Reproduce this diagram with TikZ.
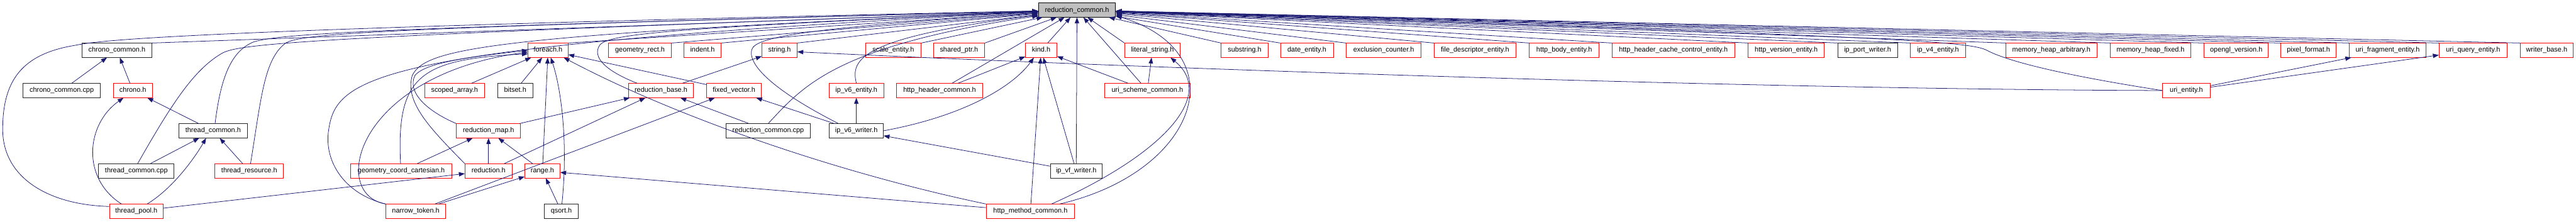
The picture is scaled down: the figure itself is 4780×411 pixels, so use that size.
\documentclass[tikz,border=0pt]{standalone}
\usepackage{fontspec}
\setmainfont{Liberation Sans}
\usetikzlibrary{arrows.meta}
\definecolor{edgeblue}{RGB}{25,25,112}
\definecolor{nodered}{RGB}{255,0,0}
\definecolor{rootgray}{RGB}{191,191,191}

\tikzset{
  file/.style={draw=black, line width=1bp, minimum height=26bp, inner xsep=3bp,
    inner ysep=0pt, font=\fontsize{12.8}{14}\selectfont, text height=9.5bp, text depth=2.5bp},
  redfile/.style={file, draw=nodered},
  blackfile/.style={file, draw=black!85},
  rootfile/.style={file, fill=rootgray},
  dep/.style={draw=edgeblue, line width=0.9bp, -{Triangle[length=11bp,width=8bp]}},
}

\begin{document}
\begin{tikzpicture}[x=1bp, y=-1bp]
  \useasboundingbox (0,0) rectangle (4780,411);

  % the file itself
  \node[rootfile, minimum width=143bp] (root) at (1998.5,18.7) {reduction\_common.h};

  % first row
  \node[blackfile, minimum width=130bp] (ccomh) at (217,93.3) {chrono\_common.h};
  \node[redfile, minimum width=74bp] (foreach) at (1017,93.3) {foreach.h};
  \node[redfile, minimum width=117bp] (grect) at (1187.5,93.3) {geometry\_rect.h};
  \node[redfile, minimum width=69bp] (indent) at (1303.5,93.3) {indent.h};
  \node[redfile, minimum width=65bp] (string) at (1446.5,93.3) {string.h};
  \node[redfile, minimum width=103bp] (scale) at (1657.5,93.3) {scale\_entity.h};
  \node[redfile, minimum width=95bp] (sptr) at (1779.5,93.3) {shared\_ptr.h};
  \node[redfile, minimum width=58bp] (kind) at (1932,93.3) {kind.h};
  \node[redfile, minimum width=103bp] (lstr) at (2138.5,93.3) {literal\_string.h};
  \node[redfile, minimum width=87bp] (substr) at (2309.5,93.3) {substring.h};
  \node[redfile, minimum width=98bp] (date) at (2425,93.3) {date\_entity.h};
  \node[redfile, minimum width=139bp] (excl) at (2567.5,93.3) {exclusion\_counter.h};
  \node[redfile, minimum width=152bp] (fdesc) at (2737,93.3) {file\_descriptor\_entity.h};
  \node[redfile, minimum width=129bp] (hbody) at (2902.5,93.3) {http\_body\_entity.h};
  \node[redfile, minimum width=228bp] (hcache) at (3105,93.3) {http\_header\_cache\_control\_entity.h};
  \node[redfile, minimum width=141bp] (hver) at (3314.5,93.3) {http\_version\_entity.h};
  \node[blackfile, minimum width=111bp] (ipport) at (3465.5,93.3) {ip\_port\_writer.h};
  \node[redfile, minimum width=102bp] (ipv4e) at (3596,93.3) {ip\_v4\_entity.h};
  \node[redfile, minimum width=169bp] (mharb) at (3806.5,93.3) {memory\_heap\_arbitrary.h};
  \node[redfile, minimum width=149bp] (mhfix) at (3990.5,93.3) {memory\_heap\_fixed.h};
  \node[redfile, minimum width=119bp] (ogl) at (4149.5,93.3) {opengl\_version.h};
  \node[redfile, minimum width=103bp] (pixf) at (4283.5,93.3) {pixel\_format.h};
  \node[redfile, minimum width=143bp] (ufrag) at (4430.5,93.3) {uri\_fragment\_entity.h};
  \node[redfile, minimum width=126bp] (uquery) at (4589,93.3) {uri\_query\_entity.h};
  \node[redfile, minimum width=99bp] (wbase) at (4725.5,93.3) {writer\_base.h};

  % second row
  \node[blackfile, minimum width=143bp] (ccomcpp) at (114.5,168) {chrono\_common.cpp};
  \node[redfile, minimum width=73bp] (chrono) at (246.5,168) {chrono.h};
  \node[redfile, minimum width=111bp] (sarr) at (843.5,168) {scoped\_array.h};
  \node[blackfile, minimum width=66bp] (bitset) at (956,168) {bitset.h};
  \node[redfile, minimum width=121bp] (rbase) at (1226.5,168) {reduction\_base.h};
  \node[redfile, minimum width=102bp] (fvec) at (1362,168) {fixed\_vector.h};
  \node[redfile, minimum width=102bp] (ipv6e) at (1589,168) {ip\_v6\_entity.h};
  \node[redfile, minimum width=159bp] (hhc) at (1743.5,168) {http\_header\_common.h};
  \node[redfile, minimum width=158bp] (usch) at (2129,168) {uri\_scheme\_common.h};
  \node[redfile, minimum width=88bp] (urient) at (4057,168) {uri\_entity.h};

  % third row
  \node[blackfile, minimum width=127bp] (tcomh) at (395.5,242.7) {thread\_common.h};
  \node[redfile, minimum width=119bp] (rmap) at (906.5,242.7) {reduction\_map.h};
  \node[blackfile, minimum width=157bp] (rccpp) at (1425.5,242.7) {reduction\_common.cpp};
  \node[blackfile, minimum width=100bp] (ipv6w) at (1589,242.7) {ip\_v6\_writer.h};

  % fourth row
  \node[blackfile, minimum width=140bp] (tcomcpp) at (253,317.2) {thread\_common.cpp};
  \node[redfile, minimum width=127bp] (tres) at (462.5,317.2) {thread\_resource.h};
  \node[redfile, minimum width=187bp] (gcc) at (744.5,317.2) {geometry\_coord\_cartesian.h};
  \node[redfile, minimum width=87bp] (red) at (906.5,317.2) {reduction.h};
  \node[redfile, minimum width=65bp] (range) at (1006.5,317.2) {range.h};
  \node[blackfile, minimum width=96bp] (ipvfw) at (1997,317.2) {ip\_vf\_writer.h};

  % fifth row
  \node[redfile, minimum width=100bp] (tpool) at (253,392) {thread\_pool.h};
  \node[redfile, minimum width=111bp] (ntok) at (771.5,392) {narrow\_token.h};
  \node[blackfile, minimum width=63bp] (qsort) at (1041.5,392) {qsort.h};
  \node[redfile, minimum width=164bp] (hmc) at (1912,392) {http\_method\_common.h};

  % direct includes of the file
  \foreach \n in {ccomh,foreach,grect,indent,string,scale,sptr}
    \draw[dep] (\n.north east) -- (root);
  \foreach \n in {lstr,substr,date,excl,fdesc,hbody,hcache,hver,ipport,ipv4e,mharb,mhfix,ogl,pixf,ufrag,uquery,wbase}
    \draw[dep] (\n.north west) -- (root);
  \draw[dep] (kind) -- (root);
  \draw[dep] (hhc) -- (root);
  \draw[dep] (usch) -- (root);
  \draw[dep] (ipvfw) -- (root);

  % chrono / thread part
  \draw[dep] (ccomcpp) -- (ccomh);
  \draw[dep] (chrono) -- (ccomh);
  \draw[dep] (tcomh) -- (chrono);
  \draw[dep] (tcomcpp) -- (tcomh);
  \draw[dep] (tres) -- (tcomh);
  \draw[dep] (tpool.154) .. controls (150,330) and (160,230) .. (chrono.218);
  \draw[dep] (tpool.34) .. controls (320,350) and (360,295) .. (tcomh.226);
  \draw[dep] (tpool.170) .. controls (90,380) and (5,330) .. (5,240)
    .. controls (5,150) and (40,100) .. (140,84) .. controls (180,76) and (300,55) .. (root);
  \draw[dep] (tcomcpp.80) .. controls (320,190) and (360,130) .. (410,100)
    .. controls (440,82) and (520,70) .. (root);
  \draw[dep] (tcomh.75) .. controls (410,140) and (430,95) .. (470,78)
    .. controls (520,62) and (700,52) .. (root);
  \draw[dep] (tres.80) .. controls (485,180) and (490,110) .. (530,80)
    .. controls (560,62) and (700,52) .. (root);
  \draw[dep] (tpool) -- (red);

  % foreach / reduction part
  \draw[dep] (sarr) -- (foreach);
  \draw[dep] (bitset) -- (foreach);
  \draw[dep] (range) -- (foreach);
  \draw[dep] (fvec) -- (foreach);
  \draw[dep] (hmc.north west) .. controls (1550,320) and (1250,215) .. (foreach.-25);
  \draw[dep] (qsort.85) .. controls (1055,260) and (1040,160) .. (foreach.290);
  \draw[dep] (gcc.95) .. controls (735,140) and (780,110) .. (foreach.190);
  \draw[dep] (ntok.north west) .. controls (610,360) and (660,140) .. (foreach.185);
  \draw[dep] (ntok.north west) .. controls (640,360) and (600,300) .. (610,240)
    .. controls (625,140) and (700,85) .. (root);
  \draw[dep] (rmap.north west) .. controls (790,205) and (755,170) .. (770,140)
    .. controls (790,115) and (880,105) .. (foreach.180);
  \draw[dep] (red.north west) .. controls (800,240) and (750,190) .. (765,140)
    .. controls (790,90) and (900,65) .. (root);
  \draw[dep] (gcc) -- (rmap);
  \draw[dep] (red) -- (rmap);
  \draw[dep] (range) -- (rmap);
  \draw[dep] (rmap) -- (rbase);
  \draw[dep] (red) -- (rbase);
  \draw[dep] (qsort) -- (range);
  \draw[dep] (ntok) -- (range);
  \draw[dep] (hmc) -- (range);
  \draw[dep] (ntok) -- (fvec);
  \draw[dep] (rbase.163) .. controls (1120,130) and (1100,105) .. (1112,85)
    .. controls (1125,62) and (1250,52) .. (root);
  \draw[dep] (rbase) -- (string);
  \draw[dep] (rccpp) -- (rbase);
  \draw[dep] (rccpp.north) .. controls (1490,160) and (1550,85) .. (root);

  % ip writers
  \draw[dep] (ipv6w) -- (ipv6e);
  \draw[dep] (ipv6w) -- (fvec);
  \draw[dep] (ipv6w.158) .. controls (1420,160) and (1388,115) .. (1395,92)
    .. controls (1402,68) and (1500,52) .. (root);
  \draw[dep] (ipv6e.north) .. controls (1578,110) and (1595,70) .. (root);
  \draw[dep] (ipvfw) -- (ipv6w);
  \draw[dep] (ipv6w.east) .. controls (1790,215) and (1880,160) .. (kind.225);
  \draw[dep] (ipvfw) -- (kind);

  % http / uri part
  \draw[dep] (hmc) -- (kind);
  \draw[dep] (hhc) -- (kind);
  \draw[dep] (usch) -- (kind);
  \draw[dep] (usch) -- (lstr);
  \draw[dep] (hmc.19) .. controls (2150,290) and (2260,180) .. (lstr.-22);
  \draw[dep] (hmc.14) .. controls (2220,320) and (2300,100) .. (root.-8);
  \draw[dep] (urient.west) .. controls (3300,166) and (2200,130) .. (string.-5);
  \draw[dep] (urient.west) .. controls (3800,135) and (3720,110) .. (3690,95)
    .. controls (3660,78) and (3600,70) .. (root);
  \draw[dep] (urient) -- (ufrag);
  \draw[dep] (urient) -- (uquery);
\end{tikzpicture}
\end{document}
